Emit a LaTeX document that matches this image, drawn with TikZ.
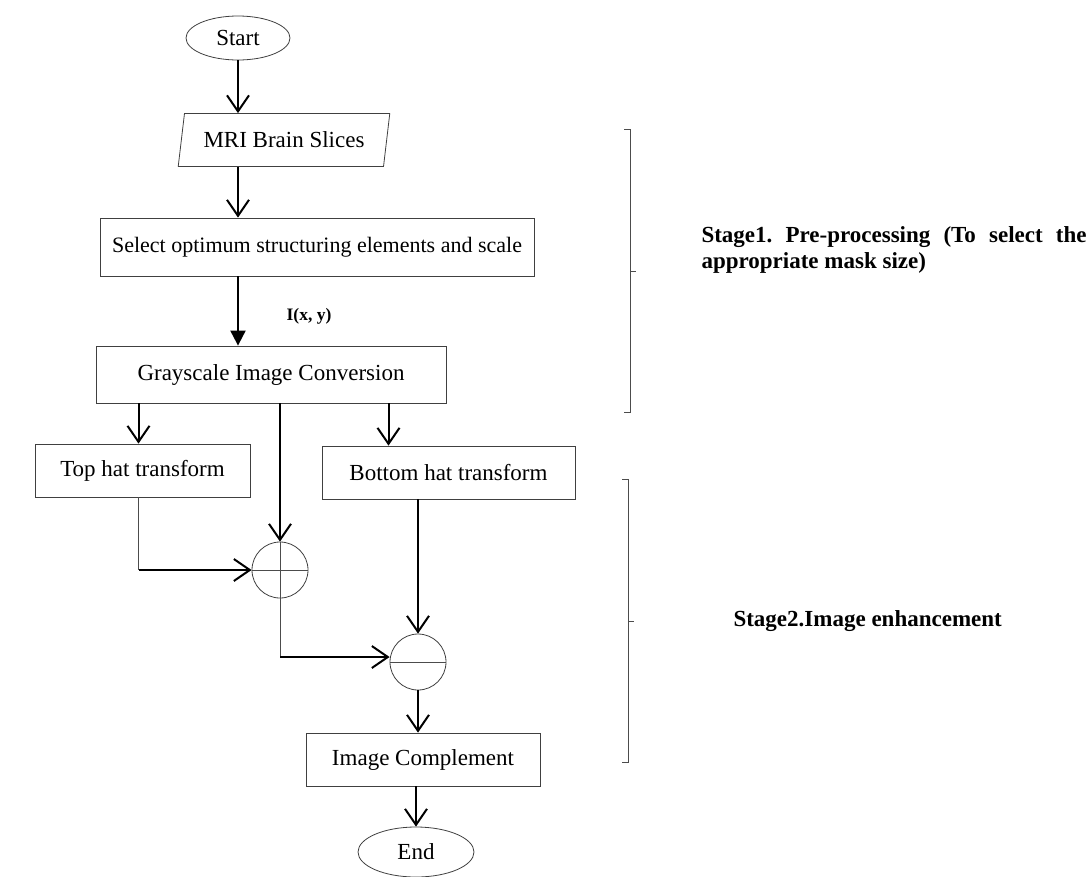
\documentclass[tikz,border=0pt]{standalone}
\usepackage{fontspec}
\setmainfont{Liberation Serif}
\usetikzlibrary{shapes.geometric, arrows.meta}
\frenchspacing

\begin{document}
\begin{tikzpicture}[x=1pt, y=-1pt, node distance=100pt, font=\fontsize{23}{27}\selectfont]
    \tikzstyle{terminal} = [ellipse, draw=black!75, line width=0.8pt, minimum width=104pt, minimum height=44pt, inner sep=0pt]
    \tikzstyle{data} = [trapezium, trapezium left angle=77, trapezium right angle=103, trapezium stretches=true, draw=black!75, line width=0.8pt, minimum width=212pt, minimum height=53pt]
    \tikzstyle{process} = [rectangle, draw=black!75, line width=0.8pt, inner sep=0pt, text centered]
    \tikzstyle{operator} = [circle, draw=black!75, line width=0.8pt, minimum size=56pt, inner sep=0pt]
    \tikzstyle{flow} = [line width=2pt, -{Straight Barb[length=16pt, width=22pt]}]
    \tikzstyle{feed} = [line width=2pt, -{Triangle[length=15pt, width=15pt]}]
    \tikzstyle{link} = [line width=1pt, draw=black!70]
    \tikzstyle{stage} = [font=\fontsize{23}{26}\selectfont\bfseries, anchor=west]

    \useasboundingbox (0,0) rectangle (1089,876);

    % Flow chart
    \node [terminal] (start) at (238,38) {Start};
    \node [data, below of=start, xshift=46pt, yshift=-2pt] (mri) {MRI Brain Slices};
    \node [process, minimum width=434pt, minimum height=58pt, font=\fontsize{22}{26}\selectfont, below of=mri, xshift=33pt, yshift=-7pt] (select) {Select optimum structuring elements and scale};
    \node [process, minimum width=350pt, minimum height=57pt, below of=select, xshift=-46pt, yshift=-27.5pt] (gray) {Grayscale Image Conversion};
    \node [process, minimum width=215pt, minimum height=53pt, below of=gray, xshift=-128.5pt, yshift=4pt] (tophat) {Top hat transform};
    \node [process, minimum width=253pt, minimum height=53pt, below of=gray, xshift=177.5pt, yshift=2pt] (bothat) {Bottom hat transform};
    \node [operator, below of=gray, xshift=9pt, yshift=-95.5pt] (plus) {};
    \node [operator, below of=bothat, xshift=-30.5pt, yshift=-89.5pt] (minus) {};
    \node [process, minimum width=234pt, minimum height=53pt, below of=minus, xshift=5pt, yshift=2.5pt] (compl) {Image Complement};
    \node [terminal, minimum width=116pt, minimum height=50pt, below of=compl, xshift=-7pt, yshift=7.5pt] (end) {End};

    % Signs
    \draw [link] (plus.north) -- (plus.south) (plus.west) -- (plus.east);
    \draw [link] (minus.west) -- (minus.east);

    % Label on the arrow
    \node [font=\fontsize{17.5}{20}\selectfont\bfseries] (ixy) at (309,316) {I(x, y)};

    % Connections
    \draw [flow] (start.south) -- (start.south |- mri.north);
    \draw [flow] (mri.south -| start) -- (select.north -| start);
    \draw [feed] (select.south -| start) -- (gray.north -| start);
    \draw [flow] ([xshift=-4pt]gray.south -| tophat) -- ([xshift=-4pt]tophat.north);
    \draw [flow] (gray.south -| plus) -- (plus.north);
    \draw [flow] ([xshift=-60pt]bothat.north |- gray.south) -- ([xshift=-60pt]bothat.north);
    \draw [link] ([xshift=-4pt]tophat.south) -- ([xshift=-4pt]tophat.south |- plus.west);
    \draw [flow] ([xshift=-4pt]tophat.south |- plus.west) -- (plus.west);
    \draw [link] (plus.south) -- ([yshift=5pt]plus.south |- minus.west);
    \draw [flow] ([yshift=5pt]plus.south |- minus.west) -- ([yshift=5pt]minus.west);
    \draw [flow] (bothat.south -| minus) -- (minus.north);
    \draw [flow] (minus.south) -- (minus.south |- compl.north);
    \draw [flow] (compl.south -| end) -- (end.north);

    % Stage brackets
    \draw [link] (624,129) -- (630,129) -- (630,412) -- (624,412) (630,271) -- (636,271);
    \draw [link] (622,479) -- (628,479) -- (628,762) -- (622,762) (628,621) -- (634,621);
    \node [stage, text width=385pt, align=justify] (stage1) at (698,250) {Stage1. Pre-processing (To select the \mbox{appropriate} mask size)};
    \node [stage] (stage2) at (730,621) {Stage2.Image enhancement};
\end{tikzpicture}
\end{document}
